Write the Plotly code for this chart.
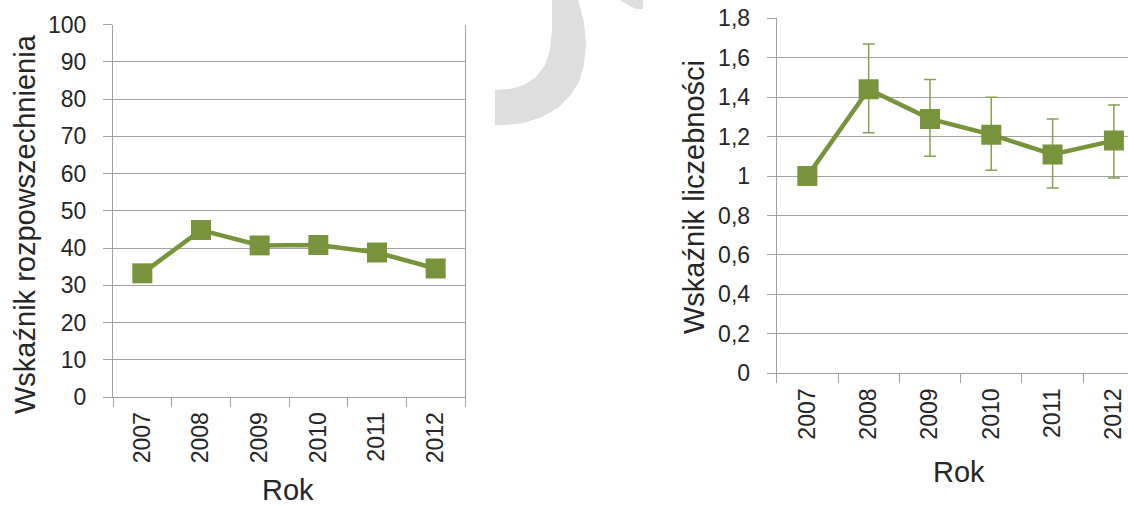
import plotly.graph_objects as go

# data
years = ["2007", "2008", "2009", "2010", "2011", "2012"]
prevalence = [33.2, 44.8, 40.7, 40.8, 38.8, 34.5]
abundance = [1.0, 1.44, 1.29, 1.21, 1.11, 1.18]
abundance_err_plus = [0, 0.23, 0.20, 0.19, 0.18, 0.18]
abundance_err_minus = [0, 0.22, 0.19, 0.18, 0.17, 0.19]

y1_ticks = [0, 10, 20, 30, 40, 50, 60, 70, 80, 90, 100]
y2_ticks = [0, 0.2, 0.4, 0.6, 0.8, 1.0, 1.2, 1.4, 1.6, 1.8]

W, H = 1128, 506
GREEN = "#77933c"
GRID = "#a0a0a0"
TEXT = "#262626"
FONT = "Liberation Sans, Arial, sans-serif"


def px(x):
    return x / W


def py(y):
    return 1 - y / H


def path_from(points):
    pts = ["%s%.4f,%.4f" % ("M" if i == 0 else "L", px(x), py(y)) for i, (x, y) in enumerate(points)]
    return " ".join(pts) + " Z"


fig = go.Figure()

# left chart: prevalence
fig.add_trace(go.Scatter(
    x=years, y=prevalence, mode="lines+markers",
    line=dict(color=GREEN, width=4.5),
    marker=dict(symbol="square", size=20, color=GREEN),
    xaxis="x", yaxis="y", showlegend=False
))

# right chart: abundance with error bars
fig.add_trace(go.Scatter(
    x=years, y=abundance, mode="lines+markers",
    line=dict(color=GREEN, width=4.5),
    marker=dict(symbol="square", size=20, color=GREEN),
    error_y=dict(type="data", symmetric=False, array=abundance_err_plus,
                 arrayminus=abundance_err_minus, color="#86a14c",
                 thickness=1.5, width=6),
    xaxis="x2", yaxis="y2", showlegend=False
))

axis_common = dict(
    showgrid=True, gridcolor=GRID, gridwidth=1,
    showline=True, linecolor=GRID, linewidth=1,
    ticks="outside", ticklen=9, tickcolor=GRID, tickwidth=1,
    tickfont=dict(family=FONT, size=23, color=TEXT),
    zeroline=False, fixedrange=True, automargin=False,
)

x_common = dict(axis_common, showgrid=False, type="category",
                tickson="boundaries", tickangle=-90, ticklabelstandoff=5)

fig.update_layout(
    template="none",
    width=W, height=H,
    margin=dict(l=0, r=0, t=0, b=0, pad=0),
    paper_bgcolor="white", plot_bgcolor="white",
    separators=", ",
    xaxis=dict(x_common, domain=[px(113), px(465)], range=[-0.5, 5.5],
               anchor="y"),
    yaxis=dict(axis_common, domain=[py(397), py(24.5)], range=[0, 100],
               tickvals=y1_ticks, mirror=True, anchor="x",
               ticklabelstandoff=12),
    xaxis2=dict(x_common, domain=[px(776.7), 1.0], range=[-0.5, 5.23],
                anchor="y2"),
    yaxis2=dict(axis_common, domain=[py(373.3), py(18.3)], range=[0, 1.8],
                tickvals=y2_ticks, anchor="x2", ticklabelstandoff=12),
)

title_font = dict(family=FONT, size=29, color=TEXT)
titles = [
    ("Wskaźnik rozpowszechnienia", 25, 224, -90),
    ("Rok", 288, 490, 0),
    ("Wskaźnik liczebności", 694, 197, -90),
    ("Rok", 959, 472, 0),
]
for text, tx, ty, angle in titles:
    fig.add_annotation(text=text, textangle=angle, x=px(tx), y=py(ty),
                       xref="paper", yref="paper", xanchor="center",
                       yanchor="middle", showarrow=False, font=title_font)

# light grey watermark fragment at the top
arc = [(578, 0), (584, 22), (586, 45), (584, 65), (579, 82), (570, 96),
       (558, 108), (542, 117), (524, 123), (505, 125), (495, 125),
       (495, 90), (510, 89), (524, 85), (536, 77), (545, 65), (550, 50),
       (552, 30), (552, 0)]
tip = [(620, 0), (628, 5), (636, 9), (643, 9), (643, 0)]
for shape_pts in (arc, tip):
    fig.add_shape(type="path", path=path_from(shape_pts), xref="paper", yref="paper",
                  fillcolor="#dedede", line=dict(width=0), layer="below")

# the page's default body margin would shift the figure by 8px
fig.write_html("out.html", config={"displayModeBar": False},
               post_script="document.body.style.margin='0';")
